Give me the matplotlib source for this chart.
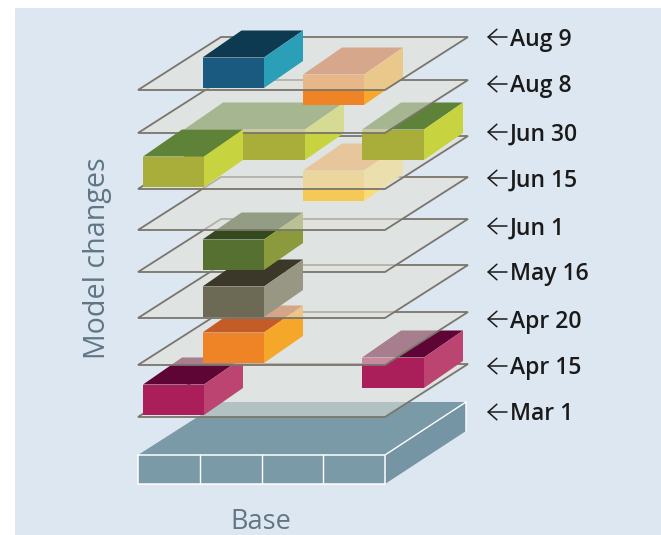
import matplotlib
matplotlib.use("Agg")
import matplotlib.pyplot as plt

# dates, top to bottom, and y of each label
dates = ["Aug 9", "Aug 8", "Jun 30", "Jun 15", "Jun 1", "May 16", "Apr 20", "Apr 15", "Mar 1"]
date_y = [38, 85, 133, 179, 227, 273, 320, 367, 413]

# front edge of each plane (picture coordinates, y goes down)
plane_front = [90, 133, 189, 230, 272, 318, 365, 417]

# boxes
box_names = ["blue", "peach", "olive_left", "olive_wide", "olive_right", "yellow",
             "green", "grey", "orange", "crimson_left", "crimson_right"]
box_x = [202.5, 303, 143, 184, 362, 303, 202.5, 202.5, 202.5, 143, 362]
box_base = [88, 105, 187, 160, 160, 201, 270, 317, 363, 415, 388]
box_width = [61.5, 61, 61, 121, 62, 61, 61.5, 61.5, 61.5, 61, 62]
box_front = ["#1a5a80", "#ef8427", "#a9ae3b", "#a9ae3b", "#a9ae3b", "#f6c855",
             "#557030", "#6c6955", "#ef8427", "#aa1f5a", "#aa1f5a"]
box_top = ["#0d3a50", "#c8602c", "#5e8238", "#5e8238", "#5e8238", "#eda54e",
           "#344a1e", "#3b3829", "#c45c28", "#5f0535", "#5f0535"]
box_side = ["#2b9fb8", "#f5a82c", "#c8d340", "#c8d340", "#c8d340", "#f8dc7a",
            "#8a9a3c", "#989783", "#f4a728", "#bb4570", "#bb4570"]

# paint order, bottom of the stack first. numbers are planes
draw_order = [7, "crimson_left", "crimson_right", 6, "orange", 5, 4, "grey", "green", 3,
              "yellow", 2, "olive_wide", "olive_right", 1, "olive_left", "peach", 0, "blue"]

BOX_H, BOX_DX, BOX_DY = 30.5, 39, 27
PLANE_L, PLANE_R, PLANE_DX, PLANE_DY = 138, 385, 83, 53
BASE_TOP, BASE_BOTTOM, BASE_DY = 455, 484, 53
base_cells = [200, 261.5, 323]

BG = "#dde7f1"
PLANE_FILL = (0.885, 0.885, 0.85, 0.55)
PLANE_LINE = "#7a756c"
BASE_COL = "#7a9aa8"
TEXT_GREY = "#5f7785"

plt.rcParams["font.family"] = ["Open Sans", "Noto Sans", "DejaVu Sans"]

fig = plt.figure(figsize=(6.61, 5.35), dpi=100)
ax = fig.add_axes([0, 0, 1, 1])
ax.set_xlim(0, 661)
ax.set_ylim(535, 0)
ax.axis("off")

ax.fill([15, 661, 661, 15], [8, 8, 535, 535], color=BG, lw=0)


def draw_box(i):
    x0, x1 = box_x[i], box_x[i] + box_width[i]
    yb, yt = box_base[i], box_base[i] - BOX_H
    ax.fill([x0, x1, x1, x0], [yb, yb, yt, yt], color=box_front[i], lw=0)
    ax.fill([x0, x1, x1 + BOX_DX, x0 + BOX_DX], [yt, yt, yt - BOX_DY, yt - BOX_DY],
            color=box_top[i], lw=0)
    ax.fill([x1, x1 + BOX_DX, x1 + BOX_DX, x1], [yb, yb - BOX_DY, yt - BOX_DY, yt],
            color=box_side[i], lw=0)


def draw_plane(y):
    xs = [PLANE_L, PLANE_R, PLANE_R + PLANE_DX, PLANE_L + PLANE_DX]
    ys = [y, y, y - PLANE_DY, y - PLANE_DY]
    ax.fill(xs, ys, facecolor=PLANE_FILL, edgecolor=PLANE_LINE, lw=1.3, joinstyle="miter")


# base block
ax.fill([PLANE_L, PLANE_R, PLANE_R, PLANE_L], [BASE_TOP, BASE_TOP, BASE_BOTTOM, BASE_BOTTOM],
        color=BASE_COL, lw=0)
ax.fill([PLANE_L, PLANE_R, PLANE_R + PLANE_DX - 2, PLANE_L + PLANE_DX],
        [BASE_TOP, BASE_TOP, BASE_TOP - BASE_DY, BASE_TOP - BASE_DY], color=BASE_COL, lw=0)
ax.fill([PLANE_R, PLANE_R + PLANE_DX - 2, PLANE_R + PLANE_DX - 2, PLANE_R],
        [BASE_TOP, BASE_TOP - BASE_DY, BASE_BOTTOM - BASE_DY, BASE_BOTTOM],
        color="#7595a4", lw=0)
ax.plot([PLANE_L, PLANE_L, PLANE_R, PLANE_R, PLANE_L],
        [BASE_TOP, BASE_BOTTOM, BASE_BOTTOM, BASE_TOP, BASE_TOP], color="white", lw=1.1)
ax.plot([PLANE_R, PLANE_R + PLANE_DX - 2, PLANE_R + PLANE_DX - 2],
        [BASE_TOP, BASE_TOP - BASE_DY, BASE_BOTTOM - BASE_DY], color="white", lw=1.0)
for cx in base_cells:
    ax.plot([cx, cx], [BASE_TOP, BASE_BOTTOM], color="white", lw=1.0)

for step in draw_order:
    if isinstance(step, int):
        draw_plane(plane_front[step])
    else:
        draw_box(box_names.index(step))

# date labels with arrows
for d, y in zip(dates, date_y):
    ax.annotate("", xy=(487, y - 1), xytext=(507, y - 1),
                arrowprops=dict(arrowstyle="->,head_length=0.45,head_width=0.4", color="#1a1a1a",
                                lw=1.1, shrinkA=0, shrinkB=0, mutation_scale=14))
    ax.text(510, y + 1.5, d, fontsize=16.5, fontweight="semibold", color="#1a1a1a",
            ha="left", va="center")

ax.text(98, 258, "Model changes", fontsize=20.6, color=TEXT_GREY, rotation=90,
        ha="center", va="center")
ax.text(261, 522, "Base", fontsize=19.5, color=TEXT_GREY, ha="center", va="center")

fig.savefig("out.png", dpi=100)
